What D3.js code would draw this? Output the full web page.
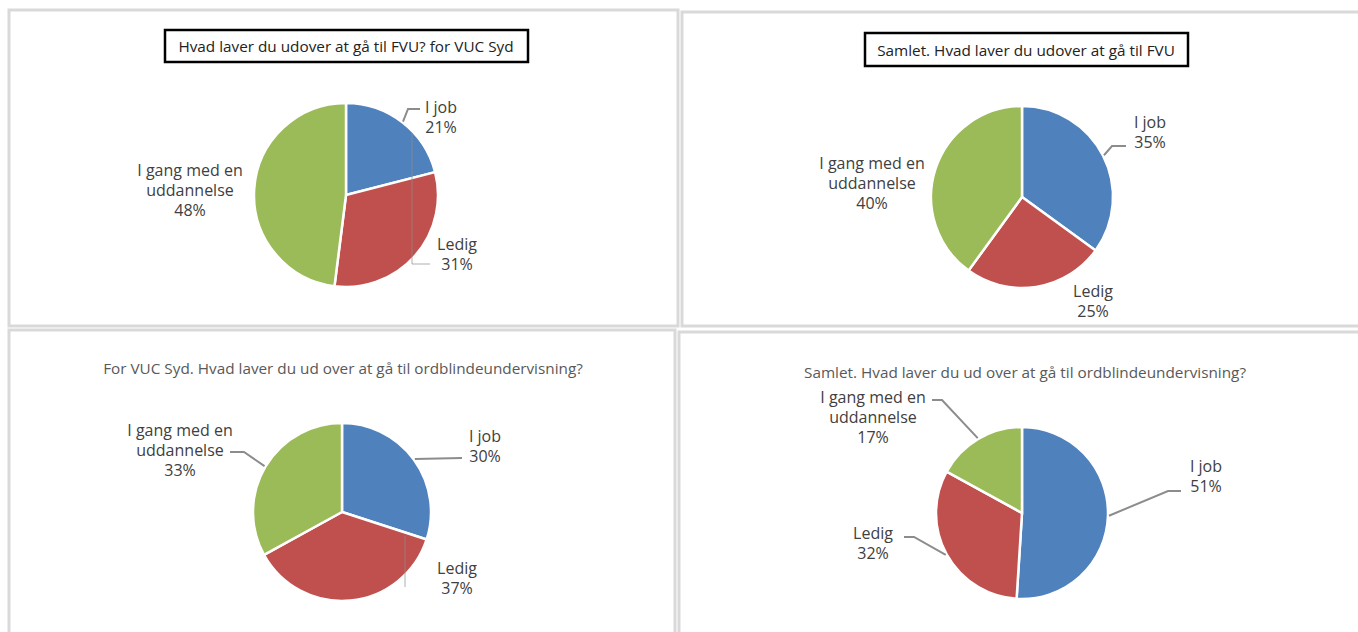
<!DOCTYPE html>
<html>
<head>
<meta charset="utf-8">
<script src="https://cdn.jsdelivr.net/npm/d3@7"></script>
<style>
  body { margin: 0; background: #fff; }
  text { font-family: "Open Sans", sans-serif; }
</style>
</head>
<body>
<svg id="viz" width="1358" height="632"></svg>
<script>
// categories in drawing order (clockwise from 12 o'clock)
var categories = ["I job", "Ledig", "I gang med en uddannelse"];
var colors = ["#4f81bd", "#c0504d", "#9bbb59"];

var titles = [
    "Hvad laver du udover at gå til FVU? for VUC Syd",
    "Samlet. Hvad laver du udover at gå til FVU",
    "For VUC Syd. Hvad laver du ud over at gå til ordblindeundervisning?",
    "Samlet. Hvad laver du ud over at gå til ordblindeundervisning?"
];

// percent per category
var fvuSyd = [21, 31, 48];
var fvuSamlet = [35, 25, 40];
var ordSyd = [30, 37, 33];
var ordSamlet = [51, 32, 17];

// label lines per category
var labelLines = [["I job"], ["Ledig"], ["I gang med en", "uddannelse"]];

// layout only: panel frame, pie centre/radius, title, label offsets and leader elbows
var panels = [
    {frame: [9, 10, 669, 316], cx: 346, cy: 195, r: 92, boxed: true,
     title: [346, 46], box: [165, 30, 363, 32], values: fvuSyd,
     labels: [
        {dx: 95, dy: -88, leader: [[408, 109], [420, 109]]},
        {dx: 111, dy: 49, leader: "glitch1"},
        {dx: -156, dy: -25, leader: null}
     ]},
    {frame: [682, 12, 690, 314], cx: 1022, cy: 197, r: 91, boxed: true,
     title: [1026, 50], box: [865, 33, 323, 33], values: fvuSamlet,
     labels: [
        {dx: 128, dy: -75, leader: [[1112, 146], [1126, 146]]},
        {dx: 71, dy: 94, leader: null},
        {dx: -150, dy: -34, leader: null}
     ]},
    {frame: [9, 330, 666, 310], cx: 342, cy: 512, r: 89, boxed: false,
     title: [343, 368], values: ordSyd,
     labels: [
        {dx: 143, dy: -76, leader: [[462, 458]]},
        {dx: 115, dy: 56, leader: "glitch3"},
        {dx: -162, dy: -82, leader: [[244, 452], [230, 452]]}
     ]},
    {frame: [679, 332, 690, 310], cx: 1022, cy: 513, r: 86, boxed: false,
     title: [1025, 372], values: ordSamlet,
     labels: [
        {dx: 184, dy: -47, leader: [[1168, 491], [1181, 491]]},
        {dx: -149, dy: 20, leader: [[914, 537], [904, 537]]},
        {dx: -149, dy: -116, leader: [[942, 400], [932, 400]]}
     ]}
];

var svg = d3.select("#viz");

var pie = d3.pie().sort(null).value(function(d) { return d; });

panels.forEach(function(p, pi) {
    svg.append("rect")
        .attr("x", p.frame[0]).attr("y", p.frame[1])
        .attr("width", p.frame[2]).attr("height", p.frame[3])
        .attr("fill", "none")
        .attr("stroke", "#d9d9d9")
        .attr("stroke-width", 3);

    if (p.boxed) {
        svg.append("rect")
            .attr("x", p.box[0]).attr("y", p.box[1])
            .attr("width", p.box[2]).attr("height", p.box[3])
            .attr("fill", "#fff")
            .attr("stroke", "#000")
            .attr("stroke-width", 2.5);
    }
    svg.append("text")
        .attr("x", p.title[0]).attr("y", p.title[1])
        .attr("text-anchor", "middle")
        .attr("dominant-baseline", "central")
        .attr("font-size", 15.3)
        .attr("fill", p.boxed ? "#222" : "#595959")
        .text(titles[pi]);

    var arc = d3.arc().innerRadius(0).outerRadius(p.r);
    var edge = d3.arc().innerRadius(p.r + 1).outerRadius(p.r + 1);
    var arcs = pie(p.values);

    var g = svg.append("g")
        .attr("transform", "translate(" + [p.cx, p.cy] + ")");

    g.selectAll("path.slice")
        .data(arcs)
        .enter()
        .append("path")
            .attr("class", "slice")
            .attr("d", arc)
            .attr("fill", function(d, i) { return colors[i]; })
            .attr("stroke", "#fff")
            .attr("stroke-width", 2.5)
            .attr("stroke-linejoin", "round");

    var line = d3.line();

    arcs.forEach(function(a, i) {
        var lab = p.labels[i];
        var pts = null;
        if (lab.leader === "glitch1") {
            pts = [[430, 264], [412, 264], [412, 133]];
        } else if (lab.leader === "glitch3") {
            pts = [[405, 536], [405, 587]];
        } else if (lab.leader) {
            var c = edge.centroid(a);
            pts = [[p.cx + c[0], p.cy + c[1]]].concat(lab.leader);
        }
        if (pts) {
            svg.append("path")
                .attr("d", line(pts))
                .attr("fill", "none")
                .attr("stroke", "#8c8c8c")
                .attr("stroke-opacity", typeof lab.leader === "string" ? 0.7 : 1)
                .attr("stroke-width", typeof lab.leader === "string" ? 1 : 2);
        }

        var lines = labelLines[i].concat([p.values[i] + "%"]);
        var t = svg.append("text")
            .attr("text-anchor", "middle")
            .attr("font-size", 16)
            .attr("fill", "#404040");
        lines.forEach(function(s, k) {
            t.append("tspan")
                .attr("x", p.cx + lab.dx)
                .attr("y", p.cy + lab.dy + k * 20)
                .attr("dominant-baseline", "central")
                .text(s);
        });
    });
});
</script>
</body>
</html>
